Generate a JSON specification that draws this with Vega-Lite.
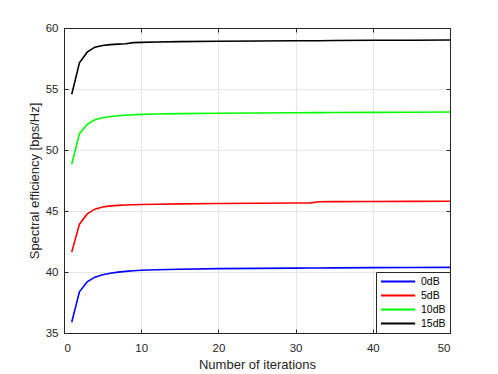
{
  "$schema": "https://vega.github.io/schema/vega-lite/v6.json",
  "autosize": "none",
  "width": 386,
  "height": 305,
  "padding": {"left": 64, "top": 28, "right": 48, "bottom": 41},
  "background": "white",
  "config": {
    "font": "Liberation Sans",
    "view": {"stroke": "#262626", "strokeWidth": 1},
    "axis": {
      "domainColor": "#262626",
      "tickColor": "#262626",
      "labelColor": "#262626",
      "titleColor": "#262626",
      "labelFontSize": 11.5,
      "titleFontSize": 13,
      "titleFontWeight": "normal",
      "gridColor": "#e6e6e6",
      "gridWidth": 1,
      "tickSize": -4,
      "labelPadding": 6
    }
  },
  "data": {
    "values": [
      {"x": 1, "y": 35.88, "snr": "0dB"}, {"x": 2, "y": 38.38, "snr": "0dB"}, {"x": 3, "y": 39.2, "snr": "0dB"}, {"x": 4, "y": 39.58, "snr": "0dB"}, {"x": 5, "y": 39.78, "snr": "0dB"}, {"x": 6, "y": 39.9, "snr": "0dB"}, {"x": 7, "y": 39.99, "snr": "0dB"}, {"x": 8, "y": 40.05, "snr": "0dB"}, {"x": 9, "y": 40.1, "snr": "0dB"}, {"x": 10, "y": 40.14, "snr": "0dB"}, {"x": 12, "y": 40.19, "snr": "0dB"}, {"x": 15, "y": 40.23, "snr": "0dB"}, {"x": 20, "y": 40.28, "snr": "0dB"}, {"x": 25, "y": 40.3, "snr": "0dB"}, {"x": 30, "y": 40.32, "snr": "0dB"}, {"x": 32, "y": 40.33, "snr": "0dB"}, {"x": 33, "y": 40.33, "snr": "0dB"}, {"x": 35, "y": 40.34, "snr": "0dB"}, {"x": 40, "y": 40.36, "snr": "0dB"}, {"x": 45, "y": 40.37, "snr": "0dB"}, {"x": 50, "y": 40.38, "snr": "0dB"},
      {"x": 1, "y": 41.63, "snr": "5dB"}, {"x": 2, "y": 43.92, "snr": "5dB"}, {"x": 3, "y": 44.76, "snr": "5dB"}, {"x": 4, "y": 45.15, "snr": "5dB"}, {"x": 5, "y": 45.33, "snr": "5dB"}, {"x": 6, "y": 45.42, "snr": "5dB"}, {"x": 7, "y": 45.46, "snr": "5dB"}, {"x": 8, "y": 45.49, "snr": "5dB"}, {"x": 9, "y": 45.51, "snr": "5dB"}, {"x": 10, "y": 45.53, "snr": "5dB"}, {"x": 12, "y": 45.55, "snr": "5dB"}, {"x": 15, "y": 45.58, "snr": "5dB"}, {"x": 20, "y": 45.61, "snr": "5dB"}, {"x": 25, "y": 45.63, "snr": "5dB"}, {"x": 30, "y": 45.65, "snr": "5dB"}, {"x": 32, "y": 45.67, "snr": "5dB"}, {"x": 33, "y": 45.76, "snr": "5dB"}, {"x": 35, "y": 45.77, "snr": "5dB"}, {"x": 40, "y": 45.78, "snr": "5dB"}, {"x": 45, "y": 45.79, "snr": "5dB"}, {"x": 50, "y": 45.8, "snr": "5dB"},
      {"x": 1, "y": 48.83, "snr": "10dB"}, {"x": 2, "y": 51.34, "snr": "10dB"}, {"x": 3, "y": 52.1, "snr": "10dB"}, {"x": 4, "y": 52.48, "snr": "10dB"}, {"x": 5, "y": 52.65, "snr": "10dB"}, {"x": 6, "y": 52.75, "snr": "10dB"}, {"x": 7, "y": 52.81, "snr": "10dB"}, {"x": 8, "y": 52.85, "snr": "10dB"}, {"x": 9, "y": 52.89, "snr": "10dB"}, {"x": 10, "y": 52.92, "snr": "10dB"}, {"x": 12, "y": 52.95, "snr": "10dB"}, {"x": 15, "y": 52.98, "snr": "10dB"}, {"x": 20, "y": 53.01, "snr": "10dB"}, {"x": 25, "y": 53.03, "snr": "10dB"}, {"x": 30, "y": 53.05, "snr": "10dB"}, {"x": 32, "y": 53.06, "snr": "10dB"}, {"x": 33, "y": 53.06, "snr": "10dB"}, {"x": 35, "y": 53.07, "snr": "10dB"}, {"x": 40, "y": 53.08, "snr": "10dB"}, {"x": 45, "y": 53.1, "snr": "10dB"}, {"x": 50, "y": 53.11, "snr": "10dB"},
      {"x": 1, "y": 54.56, "snr": "15dB"}, {"x": 2, "y": 57.15, "snr": "15dB"}, {"x": 3, "y": 58.02, "snr": "15dB"}, {"x": 4, "y": 58.43, "snr": "15dB"}, {"x": 5, "y": 58.57, "snr": "15dB"}, {"x": 6, "y": 58.64, "snr": "15dB"}, {"x": 7, "y": 58.68, "snr": "15dB"}, {"x": 8, "y": 58.71, "snr": "15dB"}, {"x": 9, "y": 58.8, "snr": "15dB"}, {"x": 10, "y": 58.82, "snr": "15dB"}, {"x": 12, "y": 58.85, "snr": "15dB"}, {"x": 15, "y": 58.88, "snr": "15dB"}, {"x": 20, "y": 58.91, "snr": "15dB"}, {"x": 25, "y": 58.93, "snr": "15dB"}, {"x": 30, "y": 58.95, "snr": "15dB"}, {"x": 32, "y": 58.96, "snr": "15dB"}, {"x": 33, "y": 58.96, "snr": "15dB"}, {"x": 35, "y": 58.97, "snr": "15dB"}, {"x": 40, "y": 58.99, "snr": "15dB"}, {"x": 45, "y": 59.0, "snr": "15dB"}, {"x": 50, "y": 59.02, "snr": "15dB"}
    ]
  },
  "layer": [
    {
      "mark": {"type": "line", "strokeWidth": 1.6, "clip": true},
      "encoding": {
        "x": {"field": "x", "type": "quantitative", "scale": {"domain": [0, 50], "nice": false},
              "axis": {"values": [0, 10, 20, 30, 40, 50], "title": "Number of iterations", "labelPadding": 13, "titlePadding": 5}},
        "y": {"field": "y", "type": "quantitative", "scale": {"domain": [35, 60], "nice": false, "zero": false},
              "axis": {"values": [35, 40, 45, 50, 55, 60], "title": "Spectral efficiency [bps/Hz]", "labelPadding": 10, "titlePadding": 4}},
        "color": {"field": "snr", "type": "nominal",
                  "scale": {"domain": ["0dB", "5dB", "10dB", "15dB"], "range": ["#0000ff", "#ff0000", "#00ff00", "#000000"]},
                  "legend": {"title": null, "orient": "bottom-right", "offset": 0, "symbolType": "M-1,0H6.6", "symbolSize": 81,
                             "symbolStrokeWidth": 2, "labelFontSize": 10.5, "labelColor": "#000000", "strokeColor": "#262626",
                             "fillColor": "white", "padding": 4, "rowPadding": 3, "labelOffset": 30}}
      }
    },
    {
      "mark": {"type": "line", "opacity": 0},
      "encoding": {
        "x": {"field": "x", "type": "quantitative", "scale": {"domain": [0, 50], "nice": false},
              "axis": {"orient": "top", "values": [0, 10, 20, 30, 40, 50], "labels": false, "title": null, "grid": false}},
        "y": {"field": "y", "type": "quantitative", "scale": {"domain": [35, 60], "nice": false, "zero": false},
              "axis": {"orient": "right", "values": [35, 40, 45, 50, 55, 60], "labels": false, "title": null, "grid": false}}
      }
    }
  ],
  "resolve": {"axis": {"x": "independent", "y": "independent"}}
}
